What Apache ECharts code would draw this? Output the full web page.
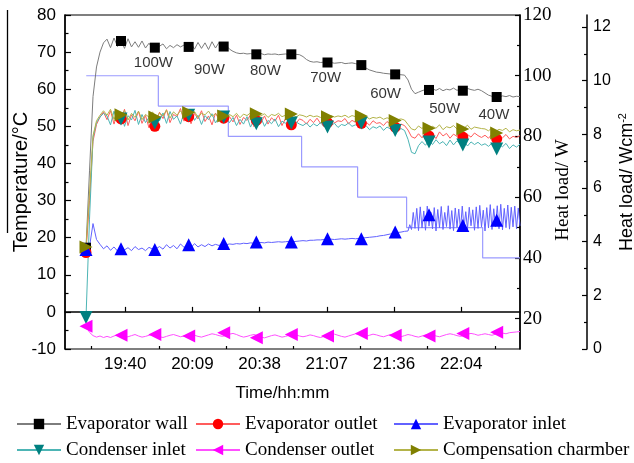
<!DOCTYPE html>
<html><head><meta charset="utf-8">
<script src="https://cdn.jsdelivr.net/npm/echarts@6/dist/echarts.min.js"></script>
<style>html,body{margin:0;padding:0;background:#fff}#c{width:634px;height:463px}</style>
</head><body><div id="c"></div>
<script>
// ---- sampling (minutes since midnight) ----
const sampleStart = 1164, sampleStep = 1.5;
const denseStart = 1302, denseStep = 0.75;

// ---- temperature series (°C) ----
const wallTemp = [17.3, 38, 58, 66, 70, 72.5,
 73.5, 71.2, 73.8, 71.5, 73.2, 71.0, 73.6, 71.4, 72.8, 71.3, 73.0, 71.1, 72.4, 71.0, 71.8,
 71.6, 72.2, 70.9, 71.8, 71.2, 72.0, 71.4, 71.9, 71.3, 72.4, 70.8, 72.6, 71.0, 72.5, 70.7, 72.8, 71.1, 72.6, 71.4, 71.8,
 70.8, 70.2, 69.8, 69.6, 69.7, 69.5, 69.6, 69.4, 69.5, 69.6, 69.3, 69.5, 69.4, 69.5, 69.3, 69.4, 69.5, 69.3, 69.4, 69.4, 69.3,
 68.8, 68.0, 67.5, 67.3, 67.4, 67.2, 67.3, 67.1, 67.2, 67.0, 67.1, 67.2, 66.9, 67.0, 67.1, 66.9,
 66.6, 66.2, 65.7, 65.2, 64.9, 64.6, 64.5, 64.3, 64.2, 64.1, 64.0, 63.9, 63.9, 63.8,
 62.5, 60.0, 58.8, 59.2, 59.6, 59.9, 59.5, 60.1, 59.7, 60.2, 59.6, 60.0, 59.8, 60.3, 59.7, 60.1, 59.6, 60.2, 59.9, 59.7, 60.0, 59.6,
 59.0, 58.4, 58.1, 58.3, 57.9, 58.2, 58.0, 58.3, 57.9, 58.1, 58.0];
const evapOutTemp = [16.2, 30, 46, 50.5, 52.5, 53.8,
 51.8, 54.2, 50.6, 53.5, 52.0, 54.6, 50.2, 53.1, 51.5, 54.0, 50.8, 52.9, 49.6, 53.4, 51.2,
 53.8, 52.1, 54.5, 51.0, 53.2, 52.6, 54.8, 51.4, 53.9, 50.7, 53.5, 52.0, 54.2, 51.3, 52.8, 50.4, 53.6, 51.8, 52.9, 51.1,
 52.6, 51.2, 53.0, 50.5, 52.4, 51.6, 53.1, 49.9, 52.2, 51.0, 52.8, 50.6, 52.3, 51.4, 53.0, 50.2, 52.1, 51.5, 52.7, 50.8, 52.0,
 51.6, 50.6, 51.9, 51.0, 52.2, 50.8, 51.7, 51.2, 52.0, 50.9, 51.5, 51.3, 52.1, 50.7, 51.6, 51.1,
 51.4, 50.6, 51.2, 50.3, 51.5, 50.8, 51.0, 50.2, 51.3, 50.5, 50.9, 50.1, 50.6, 50.2,
 49.0, 47.2, 46.8, 48.0, 46.9, 48.3, 47.2, 47.9, 46.7, 48.5, 47.4, 48.1, 46.8, 47.9, 47.3, 48.4, 46.9, 47.8, 47.1, 48.2, 47.5, 47.0,
 47.6, 46.8, 47.9, 46.5, 47.4, 46.9, 47.8, 46.6, 47.3, 47.0, 47.5];
const evapInTemp = [16.8, 17.5, 23.8, 19.5, 18.2, 17.0,
 17.8, 16.6, 17.5, 16.4, 17.9, 16.7, 17.3, 16.5, 17.6, 16.8, 17.2, 16.5, 17.4, 16.9, 17.0,
 17.6, 16.9, 18.1, 17.2, 17.9, 17.0, 18.3, 17.4, 18.0, 17.3, 18.4, 17.5, 18.1, 17.6, 18.3, 17.8, 18.2, 17.9, 18.3, 18.1,
 18.3, 18.2, 18.4, 18.3, 18.5, 18.4, 18.6, 18.5, 18.6, 18.7, 18.6, 18.8, 18.7, 18.8, 18.9, 18.8, 18.9, 19.0, 18.9, 19.0, 19.1,
 19.2, 19.1, 19.3, 19.3, 19.4, 19.4, 19.5, 19.4, 19.6, 19.5, 19.6, 19.7, 19.6, 19.7, 19.8, 19.7,
 19.8, 19.9, 20.0, 20.1, 20.2, 20.3, 20.5, 20.6, 20.8, 21.0, 21.2, 21.4, 21.5, 21.7];
// evaporator inlet, densely sampled oscillating part (from 21:42)
const evapInDense = [21.8, 23.5, 22.2, 26.8, 22.5, 27.9, 21.9, 28.3, 22.6, 27.2, 22.0, 28.5, 23.1, 26.9, 22.4, 28.1, 21.8, 27.6, 22.7, 28.4,
 22.2, 26.8, 23.0, 28.6, 22.3, 27.3, 21.9, 28.0, 22.8, 27.7, 22.1, 28.5, 22.6, 27.0, 22.4, 28.2, 23.2, 27.5, 22.0, 28.3,
 22.5, 28.7, 22.9, 27.4, 21.8, 28.1, 22.6, 28.9, 22.2, 27.8, 23.0, 28.6, 22.4, 29.0, 22.1, 27.9, 22.7, 28.8, 22.3, 28.2,
 22.9, 28.5, 22.4, 28.0, 23.2];
const condInTemp = [-1.5, 25, 47, 51, 52.5, 53.5,
 52.8, 50.4, 54.1, 51.2, 53.6, 50.0, 52.9, 51.7, 54.3, 50.5, 53.2, 51.0, 52.4, 50.2, 52.7,
 51.5, 53.6, 50.8, 54.0, 51.9, 52.8, 50.6, 53.7, 51.3, 54.2, 51.6, 53.0, 50.5, 52.9, 51.8, 53.4, 50.9, 52.5, 51.4, 52.2,
 51.0, 52.4, 50.2, 51.9, 50.6, 52.6, 49.8, 51.7, 50.9, 52.3, 50.0, 51.6, 50.7, 52.0, 49.9, 51.4, 50.8, 51.9, 50.3, 51.2, 50.6,
 50.2, 50.9, 49.8, 50.7, 50.1, 51.0, 49.9, 50.6, 50.3, 50.8, 49.7, 50.5, 50.2, 50.9, 50.0, 50.4,
 50.0, 49.4, 50.2, 49.1, 49.9, 49.5, 50.1, 48.9, 49.8, 49.3, 49.7, 48.8, 49.4, 48.9,
 46.5, 43.0, 42.6, 44.8, 45.9, 44.9, 46.2, 45.1, 46.4, 45.3, 45.9, 44.8, 46.3, 45.0, 46.1, 45.2, 46.0, 44.7, 45.8, 45.1, 45.7, 44.9,
 45.3, 44.6, 45.5, 44.2, 45.1, 44.5, 45.4, 44.0, 45.0, 44.4, 45.2];
const condOutTemp = [-3.9, -5.5, -6.4, -6.8, -6.5, -6.9,
 -6.6, -6.9, -6.5, -6.2, -6.6, -6.9, -6.7, -6.4, -6.1, -6.5, -6.8, -6.6, -6.3, -6.1, -6.4,
 -6.7, -6.9, -6.6, -6.3, -6.1, -6.4, -6.7, -6.5, -6.2, -6.0, -6.3, -6.6, -6.8, -6.5, -6.2, -5.9, -6.1, -6.4, -6.6, -6.3,
 -6.0, -5.8, -6.1, -6.5, -6.8, -6.6, -6.3, -6.1, -6.4, -6.8, -7.0, -6.7, -6.4, -6.2, -6.5, -6.8, -6.6, -6.3, -6.0, -6.2, -6.5,
 -6.7, -6.5, -6.2, -6.4, -6.7, -6.9, -6.6, -6.3, -6.1, -6.0, -6.3, -6.6, -6.8, -6.5, -6.2, -5.9,
 -6.1, -6.4, -6.6, -6.3, -6.0, -6.2, -6.5, -6.7, -6.4, -6.1, -6.3, -6.5, -6.7, -6.4,
 -6.1, -6.3, -6.6, -6.8, -6.5, -6.2, -6.0, -6.2, -6.5, -6.7, -6.4, -6.1, -5.9, -6.1, -6.4, -6.6, -6.3, -6.0, -5.8, -6.0, -6.3, -6.1,
 -5.9, -6.1, -6.3, -6.0, -5.8, -5.7, -5.9, -5.6, -5.5, -5.4, -5.3];
const compTemp = [17.3, 32, 47.5, 51.5, 53.0, 54.2,
 53.0, 54.6, 51.9, 53.8, 52.6, 54.3, 51.7, 53.5, 52.4, 54.1, 51.8, 53.2, 52.5, 53.9, 52.3,
 53.6, 52.8, 54.4, 52.2, 53.9, 53.0, 54.2, 52.6, 53.7, 52.9, 54.0, 52.4, 53.5, 53.1, 54.1, 52.7, 53.4, 52.5, 53.6, 52.9,
 53.2, 52.6, 53.5, 52.3, 53.3, 52.9, 53.6, 52.5, 53.1, 52.8, 53.4, 52.4, 53.2, 52.9, 53.5, 52.6, 53.0, 52.8, 53.3, 52.5, 53.1,
 52.9, 52.5, 53.0, 52.6, 52.8, 52.4, 53.1, 52.7, 52.9, 52.5, 52.8, 52.6, 53.0, 52.4, 52.9, 52.6,
 52.5, 52.1, 52.6, 52.0, 52.4, 52.2, 52.5, 51.9, 52.3, 52.0, 52.2, 51.8, 52.0, 51.7,
 50.5, 49.3, 49.0, 50.1, 49.4, 50.3, 49.2, 50.0, 49.5, 50.4, 49.1, 49.9, 49.6, 50.2, 49.3, 50.0, 49.5, 50.3, 49.2, 49.8, 49.6, 49.4,
 49.3, 48.8, 49.6, 48.6, 49.2, 48.9, 49.5, 48.5, 49.1, 48.8, 49.0];

// ---- marker points ----
const markerTimes = [1164, 1179, 1193.5, 1208, 1223, 1237, 1252, 1267.5, 1282, 1296.5, 1311, 1325.5, 1340];
const wallMarks    = [17.3, 73.0, 71.2, 71.4, 71.5, 69.4, 69.4, 67.2, 66.5, 64.0, 59.8, 59.6, 57.9];
const evapOutMarks = [16.0, 52.0, 50.0, 52.6, 52.2, 51.6, 50.4, 51.0, 50.8, 49.8, 47.4, 47.1, 46.6];
const evapInMarks  = [16.8, 17.0, 16.8, 18.1, 18.4, 18.8, 18.8, 19.7, 19.7, 21.5, 26.2, 23.3, 24.7];
const condInMarks  = [-1.5, 52.0, 50.9, 53.0, 52.5, 50.7, 50.9, 49.8, 50.9, 48.9, 45.8, 45.0, 43.9];
const condOutMarks = [-3.9, -6.3, -6.1, -6.5, -5.6, -7.0, -6.1, -6.5, -5.8, -6.3, -6.5, -5.8, -5.5];
const compMarks    = [17.5, 53.1, 52.5, 53.7, 52.8, 53.4, 53.3, 52.6, 52.8, 51.6, 49.5, 49.3, 48.2];

// ---- heat load steps (W) ----
const loadTimes = [1164.1, 1195.0, 1225.0, 1256.4, 1280.4, 1301.4, 1334.0, 1350];
const loadWatts = [100, 90, 80, 70, 60, 50, 40, 40];

// ---- annotations ----
const annoText = ['100W', '90W', '80W', '70W', '60W', '50W', '40W'];
const annoTime = [1192.9, 1216.9, 1240.9, 1266.7, 1292.4, 1317.7, 1338.8];
const annoTemp = [67.1, 65.2, 64.9, 63.1, 58.7, 54.7, 53.1];

// ---- axis ticks ----
const xTickTimes = [1180.8, 1209.6, 1238.4, 1267.2, 1296, 1324.8];
const xTickLabels = ['19:40', '20:09', '20:38', '21:07', '21:36', '22:04'];
const xMinorTimes = [1166.4, 1195.2, 1224, 1252.8, 1281.6, 1310.4, 1339.2];
const wTicks = [20, 40, 60, 80, 100, 120];
const wMinor = [30, 50, 70, 90, 110];
const fluxTicks = [0, 2, 4, 6, 8, 10, 12];
const fluxMinor = [1, 3, 5, 7, 9, 11];

const pair = vals => vals.map((v, i) => [sampleStart + i * sampleStep, v]);
const pairDense = vals => vals.map((v, i) => [denseStart + i * denseStep, v]);
const mk = vals => vals.map((v, i) => [markerTimes[i], v]);

const downTri = 'path://M0,0L10,0L5,10Z';
const leftTri = 'path://M10,0L10,10L0,5Z';
const rightTri = 'path://M0,0L10,5L0,10Z';

const defs = [
  {name: 'Evaporator wall', data: pair(wallTemp), mks: wallMarks, line: '#7d7d7d', color: '#000000', symbol: 'rect', size: 10},
  {name: 'Evaporator outlet', data: pair(evapOutTemp), mks: evapOutMarks, line: '#ff5c5c', color: '#ff0000', symbol: 'circle', size: 11},
  {name: 'Evaporator inlet', data: pair(evapInTemp).concat(pairDense(evapInDense)), mks: evapInMarks, line: '#6262ff', color: '#0000ff', symbol: 'triangle', size: 13},
  {name: 'Condenser inlet', data: pair(condInTemp), mks: condInMarks, line: '#4db5b5', color: '#008080', symbol: downTri, size: 13},
  {name: 'Condenser outlet', data: pair(condOutTemp), mks: condOutMarks, line: '#ff50ff', color: '#ff00ff', symbol: leftTri, size: 13},
  {name: 'Compensation charmber', data: pair(compTemp), mks: compMarks, line: '#b4b44a', color: '#808000', symbol: rightTri, size: 13}
];

const series = [];
series.push({
  type: 'line', yAxisIndex: 1, step: 'end', silent: true, symbol: 'none', z: 1,
  data: loadTimes.map((t, i) => [t, loadWatts[i]]),
  lineStyle: {color: '#9b9bff', width: 1.2}
});
defs.forEach(d => series.push({
  type: 'line', name: d.name, data: d.data, symbol: d.symbol, symbolSize: d.size,
  showSymbol: false, silent: true, z: 2,
  lineStyle: {color: d.line, width: 1}, itemStyle: {color: d.color}
}));
defs.forEach(d => series.push({
  type: 'scatter', name: d.name, data: mk(d.mks), symbol: d.symbol, symbolSize: d.size,
  silent: true, z: 3, itemStyle: {color: d.color, opacity: 1}
}));
series.push({
  type: 'scatter', silent: true, z: 4, symbolSize: 0,
  data: annoText.map((s, i) => ({name: s, value: [annoTime[i], annoTemp[i]]})),
  itemStyle: {color: 'transparent'},
  label: {show: true, position: 'inside', formatter: '{b}', fontSize: 15, color: '#000', fontFamily: 'Liberation Sans'}
});

const black = '#000';
const sans = 'Liberation Sans', serif = 'Liberation Serif';
const legendText = {fontFamily: serif, fontSize: 19, color: black, lineHeight: 20};
const legendBase = {orient: 'vertical', top: 414, itemWidth: 44, itemHeight: 13, itemGap: 6, selectedMode: false, textStyle: legendText, padding: 0};

const xMin = 1155, xMax = 1350;
const option = {
  animation: false,
  backgroundColor: '#fff',
  grid: {left: 65, right: 114, top: 15, bottom: 114, show: true, borderColor: black, borderWidth: 1.2, outerBoundsMode: 'none', containLabel: false},
  legend: [
    Object.assign({left: 16, data: ['Evaporator wall', 'Condenser inlet']}, legendBase),
    Object.assign({left: 195, data: ['Evaporator outlet', 'Condenser outlet']}, legendBase),
    Object.assign({left: 393, data: ['Evaporator inlet', 'Compensation charmber']}, legendBase)
  ],
  xAxis: [
    {type: 'value', min: xMin, max: xMax, position: 'bottom',
     name: 'Time/hh:mm', nameLocation: 'middle', nameGap: 36, nameMoveOverlap: false,
     nameTextStyle: {fontFamily: sans, fontSize: 17, color: black, padding: [0, 20, 0, 0]},
     axisLine: {lineStyle: {color: black, width: 1.5}},
     axisTick: {inside: true, length: 5, customValues: xTickTimes, lineStyle: {color: black, width: 1.2}},
     axisLabel: {customValues: xTickTimes, margin: 7, fontFamily: sans, fontSize: 17, color: black,
       formatter: v => { const i = xTickTimes.findIndex(t => Math.abs(t - v) < 0.01); return i >= 0 ? xTickLabels[i] : ''; }},
     splitLine: {show: false}},
    {type: 'value', min: xMin, max: xMax, position: 'bottom',
     axisLine: {show: false},
     axisTick: {inside: true, length: 3, customValues: xMinorTimes, lineStyle: {color: black, width: 1.2}},
     axisLabel: {show: false}, splitLine: {show: false}}
  ],
  yAxis: [
    {type: 'value', min: -10, max: 80, interval: 10, position: 'left',
     name: 'Temperature/°C', nameLocation: 'middle', nameGap: 34, nameMoveOverlap: false,
     nameTextStyle: {fontFamily: sans, fontSize: 20, color: black},
     axisLine: {show: true, lineStyle: {color: black, width: 1.5}},
     axisTick: {show: true, inside: true, length: 6, lineStyle: {color: black, width: 1.2}},
     minorTick: {show: true, splitNumber: 2, length: 3.5, lineStyle: {color: black, width: 1.2}},
     axisLabel: {margin: 9, fontFamily: sans, fontSize: 17, color: black},
     splitLine: {show: false}, minorSplitLine: {show: false}},
    {type: 'value', min: 10, max: 120, position: 'right', offset: 0,
     name: 'Heat load/ W', nameLocation: 'middle', nameGap: 34, nameMoveOverlap: false,
     nameTextStyle: {fontFamily: serif, fontSize: 19, color: black, padding: [0, 16, 0, 0]},
     axisLine: {show: true, lineStyle: {color: black, width: 1.5}},
     axisTick: {show: true, inside: true, length: 5, customValues: wTicks, lineStyle: {color: black, width: 1.2}},
     axisLabel: {customValues: wTicks, margin: 3, fontFamily: serif, fontSize: 19, color: black},
     splitLine: {show: false}},
    {type: 'value', min: 0, max: 12.45, position: 'right', offset: 67,
     name: 'Heat load/ Wcm{sup|-2}', nameLocation: 'middle', nameGap: 30, nameMoveOverlap: false,
     nameTextStyle: {fontFamily: sans, fontSize: 18, color: black,
       rich: {sup: {fontFamily: sans, fontSize: 11, color: black, verticalAlign: 'top', padding: [0, 0, 10, 0]}}},
     axisLine: {show: true, lineStyle: {color: black, width: 1.5}},
     axisTick: {show: true, inside: true, length: 5, customValues: fluxTicks, lineStyle: {color: black, width: 1.2}},
     axisLabel: {customValues: fluxTicks, margin: 6, fontFamily: sans, fontSize: 16, color: black},
     splitLine: {show: false}},
    {type: 'value', min: 10, max: 120, position: 'right', offset: 0,
     axisLine: {show: false},
     axisTick: {show: true, inside: true, length: 3, customValues: wMinor, lineStyle: {color: black, width: 1.2}},
     axisLabel: {show: false}, splitLine: {show: false}},
    {type: 'value', min: 0, max: 12.45, position: 'right', offset: 67,
     axisLine: {show: false},
     axisTick: {show: true, inside: true, length: 3, customValues: fluxMinor, lineStyle: {color: black, width: 1.2}},
     axisLabel: {show: false}, splitLine: {show: false}}
  ],
  graphic: [{type: 'line', shape: {x1: 7.5, y1: 10, x2: 7.5, y2: 233}, style: {stroke: black, lineWidth: 1.3}}],
  series: series
};
const chart = echarts.init(document.getElementById('c'), null, {renderer: 'canvas'});
chart.setOption(option);
</script>
</body></html>
